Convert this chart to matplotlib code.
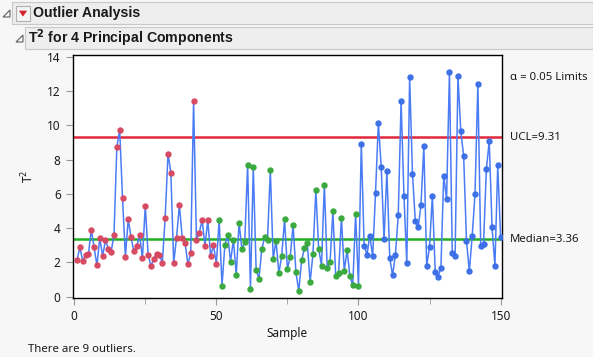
import matplotlib
matplotlib.use("Agg")
import matplotlib.pyplot as plt
import numpy as np
from matplotlib.patches import Rectangle, Polygon

# ---- data ----
setosa_t2 = [2.14, 2.88, 2.08, 2.45, 2.47, 3.91, 2.88, 1.83, 3.42, 2.37,
             3.30, 2.80, 2.62, 3.62, 8.75, 9.72, 5.75, 2.33, 4.51, 3.46,
             2.64, 2.93, 3.62, 2.24, 5.31, 2.45, 1.79, 2.20, 2.50, 2.45,
             1.98, 4.59, 8.36, 7.23, 1.98, 3.44, 5.34, 3.44, 3.15, 1.90,
             2.55, 11.43, 3.32, 3.71, 4.49, 2.97, 4.45, 2.37, 3.01, 1.92]
versicolor_t2 = [4.47, 0.64, 3.01, 3.62, 2.04, 3.32, 1.28, 4.31, 2.76, 3.19,
                 7.70, 0.45, 7.56, 1.55, 1.05, 2.78, 3.46, 3.32, 7.39, 2.20,
                 3.27, 1.36, 2.39, 4.51, 1.61, 2.33, 4.20, 1.42, 0.33, 2.12,
                 2.82, 3.11, 0.86, 2.51, 6.22, 2.80, 1.81, 6.55, 1.67, 2.02,
                 4.98, 1.19, 1.36, 4.59, 1.50, 2.70, 1.19, 0.66, 4.82, 0.64]
virginica_t2 = [8.94, 2.97, 2.45, 3.56, 2.35, 6.06, 10.15, 7.60, 3.34, 7.35,
                2.27, 1.24, 2.45, 4.76, 11.41, 5.89, 1.98, 12.81, 7.19, 4.42,
                4.04, 5.36, 8.80, 1.81, 2.90, 5.89, 1.46, 1.15, 1.69, 7.07,
                5.69, 13.10, 2.57, 2.39, 12.89, 9.66, 8.22, 3.25, 1.48, 3.52,
                5.99, 12.44, 2.97, 3.09, 7.46, 9.08, 4.04, 1.79, 7.68, 3.50]
ucl = 9.31
median = 3.36
n_outliers = 9
x_ticks = [0, 50, 100, 150]
y_ticks = [0, 2, 4, 6, 8, 10, 12, 14]

t2 = np.array(setosa_t2 + versicolor_t2 + virginica_t2)
samples = np.arange(1, len(t2) + 1)
groups = [(setosa_t2, '#d8465f'), (versicolor_t2, '#36a83a'), (virginica_t2, '#3a6ee6')]

W, H = 593, 357
fig = plt.figure(figsize=(W / 100, H / 100), dpi=100)
fig.patch.set_facecolor('#f7f7f7')
plt.rcParams['font.family'] = ['Noto Sans', 'DejaVu Sans']

def fx(px):
    return px / W

def fy(py):
    return 1 - py / H

# ---- header bars ----
fig.patches.append(Rectangle((fx(12), fy(24)), fx(593 - 12), 22 / H, transform=fig.transFigure,
                             facecolor='#eeeeee', edgecolor='#c8c8c8', lw=0.8))
fig.patches.append(Rectangle((fx(25), fy(49)), fx(593 - 25), 22 / H, transform=fig.transFigure,
                             facecolor='#eeeeee', edgecolor='#c8c8c8', lw=0.8))
# disclosure triangles
for (x0, y0) in [(3, 17), (16, 42)]:
    fig.patches.append(Polygon([(fx(x0), fy(y0)), (fx(x0 + 7), fy(y0)), (fx(x0 + 7), fy(y0 - 7))],
                               closed=True, transform=fig.transFigure, facecolor='none',
                               edgecolor='#606060', lw=0.8))
# red menu button
fig.patches.append(Rectangle((fx(16), fy(21)), fx(14), 15 / H, transform=fig.transFigure,
                             facecolor='#f4f4f4', edgecolor='#b0b0b0', lw=0.8))
fig.patches.append(Polygon([(fx(19.5), fy(11)), (fx(26.5), fy(11)), (fx(23), fy(16))],
                           closed=True, transform=fig.transFigure, facecolor='#d8202a',
                           edgecolor='#d8202a', lw=0.5))
hdr_font = ['Liberation Sans', 'DejaVu Sans']
fig.text(fx(33), fy(13.5), 'Outlier Analysis', fontsize=10.2, fontweight='bold', family=hdr_font,
         va='center', ha='left', color='#1a1a1a')
fig.text(fx(28), fy(38.5), 'T$^{\\mathbf{2}}$ for 4 Principal Components', fontsize=10.2,
         fontweight='bold', family=hdr_font, va='center', ha='left', color='#1a1a1a')

# ---- axes ----
ax = fig.add_axes([fx(72.5), fy(298.3), fx(502.3 - 72.5), (298.3 - 55.3) / H])
ax.set_facecolor('white')
ax.plot(samples, t2, color='#4a7cf5', lw=1.1, zorder=2)
start = 1
for vals, col in groups:
    xs = np.arange(start, start + len(vals))
    ax.scatter(xs, vals, s=13, color=col, edgecolors=col, linewidths=1.0, alpha=0.95, zorder=3)
    start += len(vals)
ax.axhline(ucl, color='#e0283c', lw=1.8, zorder=1)
ax.axhline(median, color='#20b020', lw=1.8, zorder=1)

ax.set_xlim(-0.6, 150.6)
ax.set_ylim(-0.1, 14.1)
ax.set_xticks(x_ticks)
ax.set_xticks([25, 75, 125], minor=True)
ax.set_yticks(y_ticks)
ax.tick_params(axis='both', which='both', color='#999999', labelsize=8.5, labelcolor='#1a1a1a')
ax.tick_params(axis='both', which='major', length=5)
ax.tick_params(axis='x', which='minor', length=4)
for sp in ax.spines.values():
    sp.set_color('black')
    sp.set_linewidth(1.0)
ax.set_xlabel('Sample', fontsize=8.5, color='#1a1a1a', labelpad=3)
ax.set_ylabel('T$^{2}$', fontsize=8.5, color='#1a1a1a', labelpad=8)

# right side labels
yt = ax.get_yaxis_transform()
ax.text(1.018, 14 - 1.2, '\u03b1 = 0.05 Limits', transform=yt, fontsize=8.2,
        va='center', ha='left', color='#1a1a1a')
ax.text(1.018, ucl, f'UCL={ucl:.2f}', transform=yt, fontsize=8.2,
        va='center', ha='left', color='#1a1a1a')
ax.text(1.018, median, f'Median={median:.2f}', transform=yt, fontsize=8.2,
        va='center', ha='left', color='#1a1a1a')

fig.text(fx(28), fy(350), f'There are {n_outliers} outliers.', fontsize=8.2, va='center', ha='left',
         color='#1a1a1a')

fig.savefig('out.png', dpi=100, facecolor=fig.get_facecolor())
